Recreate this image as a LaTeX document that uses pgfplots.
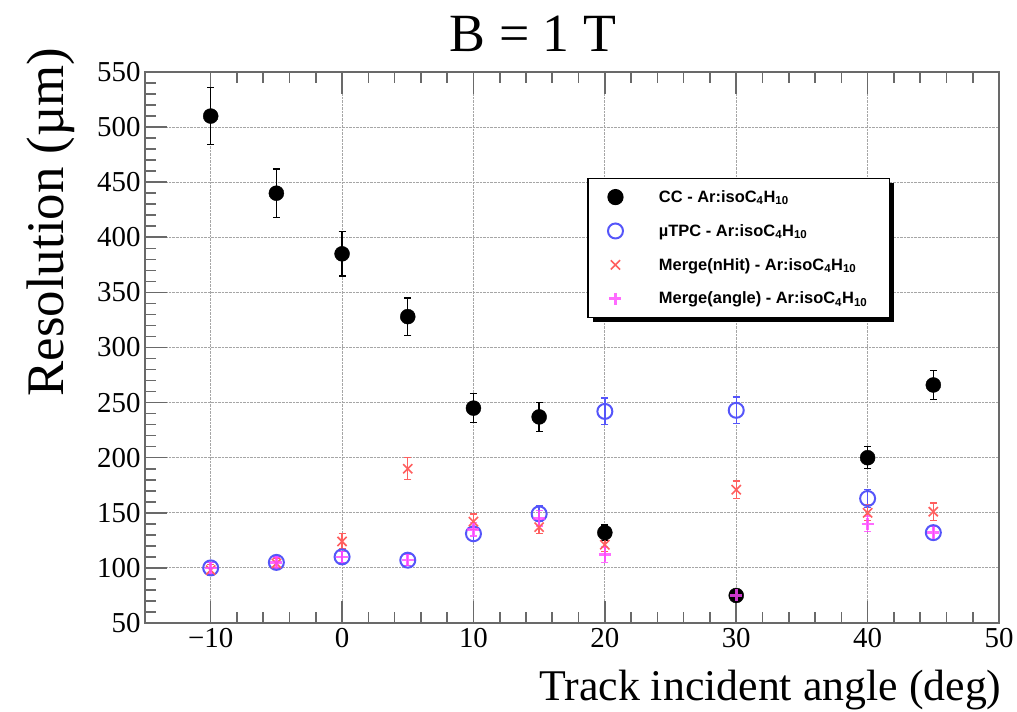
\documentclass[border=0pt]{standalone}
\usepackage{fontspec}
\setmainfont{Liberation Serif}
\newfontfamily\legfont{Liberation Sans}
\usepackage{pgfplots}
\pgfplotsset{compat=1.18}
\usetikzlibrary{shadows}
\definecolor{ccblue}{RGB}{85,85,250}
\definecolor{ccred}{RGB}{255,95,95}
\definecolor{ccmag}{RGB}{255,70,255}
\definecolor{frame}{RGB}{105,105,105}
\begin{document}
\begin{tikzpicture}
\path[use as bounding box] (0,0) rectangle (1017bp,712bp);
\begin{axis}[
  at={(145bp,89bp)}, anchor=south west,
  scale only axis, width=854bp, height=551bp,
  xmin=-15, xmax=50, ymin=50, ymax=550,
  xtick={-10,0,10,20,30,40,50},
  xticklabels={{−10},0,10,20,30,40,50},
  ytick={50,100,...,550},
  minor x tick num=4, minor y tick num=4,
  ytick pos=left, xtick pos=both,
  tick align=inside,
  major tick length=22bp, minor tick length=11bp,
  tick style={frame, line width=1.6bp},
  axis line style={frame, line width=2bp},
  grid=major,
  major grid style={gray!70, densely dotted, line width=1bp},
  /pgf/number format/assume math mode=true,
  ticklabel style={font=\fontsize{29}{30}\selectfont},
  xticklabel style={yshift=-2bp},
  yticklabel style={xshift=-1bp},
  legend style={at={(0.518,0.808)}, anchor=north west,
    font=\legfont\bfseries\fontsize{16.5}{19}\selectfont,
    draw=black, line width=1.2bp, fill=white,
    drop shadow={shadow xshift=5bp, shadow yshift=-5bp, fill=black, opacity=1},
    row sep=16.5bp, inner xsep=20bp, inner ysep=10bp,
    /tikz/every odd column/.append style={column sep=34bp},
    cells={anchor=west}},
  legend cell align=left,
  error bars/error bar style={line width=1.4bp},
  error bars/error mark options={rotate=90, mark size=3.5bp, line width=1.4bp},
]
\addplot[only marks, mark=*, mark size=7.5bp, black,
  error bars/.cd, y dir=both, y explicit]
  coordinates {(-10,510) +- (0,26) (-5,440) +- (0,22) (0,385) +- (0,20) (5,328) +- (0,17)
  (10,245) +- (0,13) (15,237) +- (0,13) (20,132) +- (0,7) (30,75) +- (0,4)
  (40,200) +- (0,10) (45,266) +- (0,13)};
\addlegendentry{CC - Ar:isoC\textsubscript{4}H\textsubscript{10}}
\addplot[only marks, mark=o, mark size=7.5bp, ccblue, mark options={line width=2bp},
  error bars/.cd, y dir=both, y explicit]
  coordinates {(-10,100) +- (0,5) (-5,105) +- (0,5) (0,110) +- (0,5) (5,107) +- (0,5)
  (10,131) +- (0,6) (15,149) +- (0,7) (20,242) +- (0,12) (30,243) +- (0,12)
  (40,163) +- (0,8) (45,132) +- (0,6)};
\addlegendentry{µTPC - Ar:isoC\textsubscript{4}H\textsubscript{10}}
\addplot[only marks, mark=x, mark size=6.5bp, ccred, mark options={line width=1.6bp},
  error bars/.cd, y dir=both, y explicit]
  coordinates {(-10,98) +- (0,5) (-5,104) +- (0,5) (0,124) +- (0,7) (5,190) +- (0,10)
  (10,142) +- (0,7) (15,137) +- (0,6) (20,121) +- (0,6) (30,171) +- (0,8)
  (40,150) +- (0,7) (45,151) +- (0,8)};
\addlegendentry{Merge(nHit) - Ar:isoC\textsubscript{4}H\textsubscript{10}}
\addplot[only marks, mark=+, mark size=6bp, ccmag, opacity=0.8, mark options={line width=2.6bp},
  error bars/.cd, y dir=both, y explicit]
  coordinates {(-10,100) +- (0,5) (-5,105) +- (0,5) (0,110) +- (0,5) (5,107) +- (0,5)
  (10,135) +- (0,6) (15,145) +- (0,7) (20,112) +- (0,7) (30,75) +- (0,4)
  (40,140) +- (0,7) (45,132) +- (0,6)};
\addlegendentry{Merge(angle) - Ar:isoC\textsubscript{4}H\textsubscript{10}}
\end{axis}
\node[anchor=base, font=\fontsize{54}{56}\selectfont] at (533bp,660bp) {B = 1 T};
\node[anchor=base, rotate=90, font=\fontsize{53}{55}\selectfont] at (63bp,490bp) {Resolution (µm)};
\node[anchor=base east, font=\fontsize{44}{46}\selectfont] at (1005bp,12bp) {Track incident angle (deg)};
\end{tikzpicture}
\end{document}
